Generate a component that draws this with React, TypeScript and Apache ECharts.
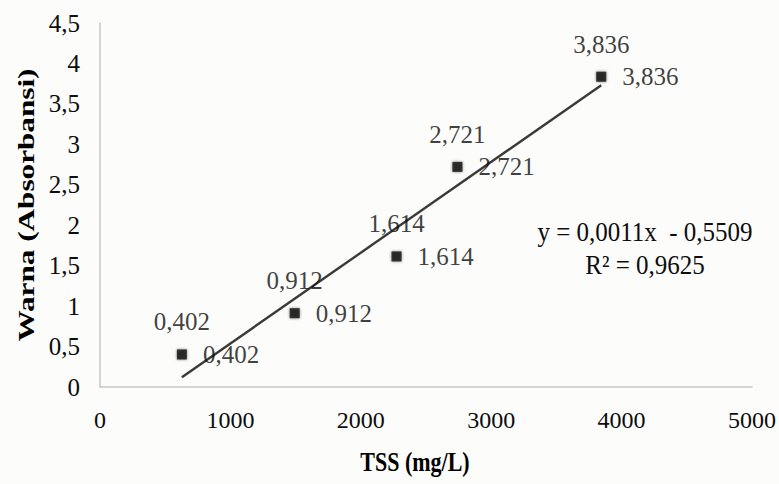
import React, { useEffect, useRef } from "react";
import * as echarts from "echarts";

const tssValues = [628, 1493, 2274, 2741, 3844];
const absorbValues = [0.402, 0.912, 1.614, 2.721, 3.836];
const trendX = [628, 3844];
const trendY = [0.12, 3.73];
const equationText = "y = 0,0011x  - 0,5509";
const r2Text = "R² = 0,9625";
const xTitle = "TSS (mg/L)";
const yTitle = "Warna (Absorbansi)";

const FONT = "Liberation Serif";
const comma = (v: number) => String(v).replace(".", ",");

export default function App() {
  const ref = useRef<HTMLDivElement>(null);
  useEffect(() => {
    if (!ref.current) return;
    const chart = echarts.init(ref.current, undefined, { renderer: "svg" });
    const pts = tssValues.map((x, i) => [x, absorbValues[i]]);
    const labelBase = {
      show: true,
      fontFamily: FONT,
      fontSize: 25,
      color: "#0d0d0d",
      formatter: (p: any) => comma(p.value[1]),
    };
    chart.setOption({
      animation: false,
      backgroundColor: "#fcfcfa",
      grid: { left: 100, right: 25, top: 23, bottom: 97 },
      xAxis: {
        type: "value",
        min: 0,
        max: 5000,
        interval: 1000,
        axisLine: { show: true, lineStyle: { color: "#c8c8c8", width: 1.5 } },
        axisTick: { show: false },
        splitLine: { show: false },
        axisLabel: {
          fontFamily: FONT,
          fontSize: 24,
          color: "#0d0d0d",
          margin: 21,
          formatter: (v: number) => String(v),
        },
      },
      yAxis: {
        type: "value",
        min: 0,
        max: 4.5,
        interval: 0.5,
        axisLine: { show: true, lineStyle: { color: "#c8c8c8", width: 1.5 } },
        axisTick: { show: false },
        splitLine: { show: false },
        axisLabel: {
          fontFamily: FONT,
          fontSize: 25,
          color: "#0d0d0d",
          margin: 20,
          formatter: (v: number) => comma(v),
        },
      },
      series: [
        {
          type: "line",
          data: trendX.map((x, i) => [x, trendY[i]]),
          symbol: "none",
          lineStyle: { color: "#3a3a3a", width: 2.4 },
          z: 1,
        },
        {
          type: "scatter",
          data: pts,
          symbol: "rect",
          symbolSize: 10,
          itemStyle: {
            color: "#0a0a0a",
            shadowBlur: 3,
            shadowColor: "rgba(0,0,0,0.6)",
          },
          label: { ...labelBase, position: "top", distance: 15 },
          z: 3,
        },
        {
          type: "scatter",
          data: pts,
          symbol: "rect",
          symbolSize: 10,
          itemStyle: { color: "rgba(0,0,0,0)" },
          label: { ...labelBase, position: "right", distance: 16 },
          silent: true,
          z: 2,
        },
      ],
      graphic: [
        {
          type: "text",
          x: 645,
          y: 232,
          scaleY: 1.1,
          style: {
            text: equationText,
            font: `25px "${FONT}"`,
            fill: "#0d0d0d",
            align: "center",
            verticalAlign: "middle",
          },
        },
        {
          type: "text",
          x: 645,
          y: 265,
          scaleY: 1.1,
          style: {
            text: r2Text,
            font: `25px "${FONT}"`,
            fill: "#0d0d0d",
            align: "center",
            verticalAlign: "middle",
          },
        },
        {
          type: "text",
          x: 415,
          y: 462,
          scaleY: 1.2,
          style: {
            text: xTitle,
            font: `bold 22px "${FONT}"`,
            fill: "#000",
            align: "center",
            verticalAlign: "middle",
          },
        },
        {
          type: "text",
          x: 26,
          y: 205,
          rotation: Math.PI / 2,
          scaleX: 1.3,
          style: {
            text: yTitle,
            font: `bold 24px "${FONT}"`,
            fill: "#000",
            align: "center",
            verticalAlign: "middle",
          },
        },
      ],
    });
    return () => chart.dispose();
  }, []);
  return (
    <div
      ref={ref}
      style={{ position: "fixed", left: 0, top: 0, width: 779, height: 484 }}
    />
  );
}
